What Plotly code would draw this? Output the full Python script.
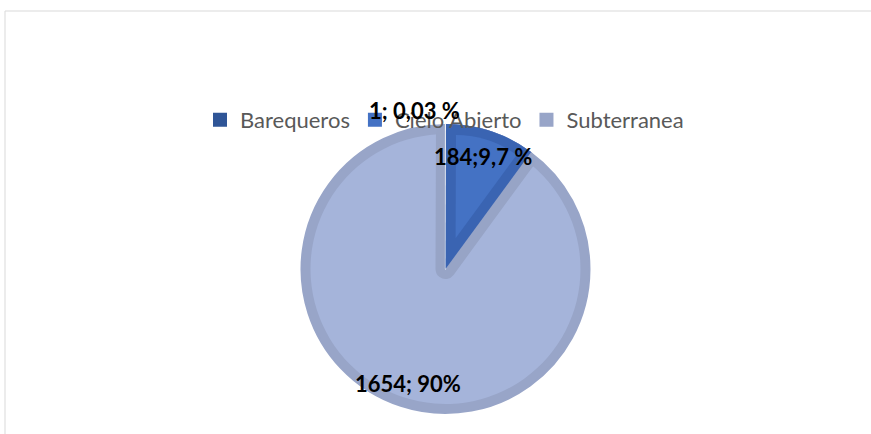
import math
import plotly.graph_objects as go

# ---------------- data ----------------
categories = ["Barequeros", "Cielo Abierto", "Subterranea"]
values = [1, 184, 1654]
label_texts = ["1; 0,03 %", "184;9,7 %", "1654; 90%"]

# ---------------- styles ----------------
legend_colors = ["#2f5597", "#4472c4", "#98a5c8"]
fill_colors = ["#2f5597", "#4472c4", "#a5b4da"]
bevel_colors = ["#eef0f6", "#3a64b2", "#97a4c6"]
CLEAR = "rgba(0,0,0,0)"

W, H = 871, 434
cx, cy, R = 445.5, 269.0, 145.0   # pie centre / radius in px
bev = 10.0                         # bevel width in px


def dom(x, y, r):
    return dict(x=[(x - r) / W, (x + r) / W], y=[1 - (y + r) / H, 1 - (y - r) / H])


common = dict(labels=categories, values=values, sort=False, direction="clockwise",
              rotation=0, textinfo="none", hoverinfo="label+value+percent")

fig = go.Figure()

# 1) base layer (also provides the legend)
fig.add_trace(go.Pie(**common, domain=dom(cx, cy, R - 1), showlegend=True,
                     marker=dict(colors=legend_colors,
                                 line=dict(color=legend_colors, width=2))))

# 2) Subterranea interior
fig.add_trace(go.Pie(**common, domain=dom(cx, cy, R - bev), showlegend=False,
                     marker=dict(colors=[CLEAR, CLEAR, fill_colors[2]],
                                 line=dict(color=[CLEAR, CLEAR, CLEAR], width=0))))

# 3) Subterranea bevel along the radial edges (stroke of the Cielo slice)
fig.add_trace(go.Pie(**common, domain=dom(cx, cy, R - bev), showlegend=False,
                     marker=dict(colors=[CLEAR, CLEAR, CLEAR],
                                 line=dict(color=[CLEAR, bevel_colors[2], CLEAR],
                                           width=[0, 2 * bev, 0]))))

# 4) Cielo Abierto bevel + Barequeros sliver
fig.add_trace(go.Pie(**common, domain=dom(cx, cy, R), showlegend=False,
                     marker=dict(colors=[bevel_colors[0], bevel_colors[1], CLEAR],
                                 line=dict(color=[bevel_colors[0], CLEAR, CLEAR],
                                           width=[1.2, 0, 0]))))

# 5) Cielo Abierto interior (inset wedge)
total = sum(values)
a0 = 2 * math.pi * values[0] / total
a1 = 2 * math.pi * (values[0] + values[1]) / total
theta = (a0 + a1) / 2
half = (a1 - a0) / 2
d = bev / math.sin(half)
px, py = cx + d * math.sin(theta), cy - d * math.cos(theta)
ux, uy = math.sin(a0), -math.cos(a0)
rx, ry = px - cx, py - cy
b = rx * ux + ry * uy
t_edge = -b + math.sqrt(b * b - (rx * rx + ry * ry) + (R - bev) ** 2)
r_in = (t_edge + (R - bev - d)) / 2
fig.add_trace(go.Pie(**common, domain=dom(px, py, r_in), showlegend=False,
                     marker=dict(colors=[CLEAR, fill_colors[1], CLEAR],
                                 line=dict(color=[CLEAR, CLEAR, CLEAR], width=0))))

# data labels
label_pos = [(414, 110), (483, 157), (408, 383)]
annotations = []
for txt, (lx, ly) in zip(label_texts, label_pos):
    annotations.append(dict(text=txt, x=lx / W, y=1 - ly / H, xref="paper", yref="paper",
                            showarrow=False, xanchor="center", yanchor="middle",
                            font=dict(family="Lato", size=22, color="#000000", weight="bold")))

fig.update_layout(
    width=W, height=H,
    margin=dict(l=0, r=0, t=0, b=0),
    paper_bgcolor="#ffffff",
    plot_bgcolor="#ffffff",
    font=dict(family="Lato", color="#595959"),
    legend=dict(orientation="h", x=200 / W, y=1 - 120 / H, xanchor="left", yanchor="middle",
                font=dict(family="Lato", size=22, color="#595959"),
                bgcolor="rgba(0,0,0,0)", itemclick=False, itemdoubleclick=False,
                traceorder="normal"),
    annotations=annotations,
    shapes=[dict(type="rect", xref="paper", yref="paper",
                 x0=5 / W, x1=1.02, y0=-0.05, y1=1 - 11 / H,
                 line=dict(color="#d9d9d9", width=1), fillcolor="rgba(0,0,0,0)", layer="below")],
)

fig.write_html("out.html", config={"displayModeBar": False},
               post_script="document.body.style.margin='0';document.body.style.overflow='hidden';")
